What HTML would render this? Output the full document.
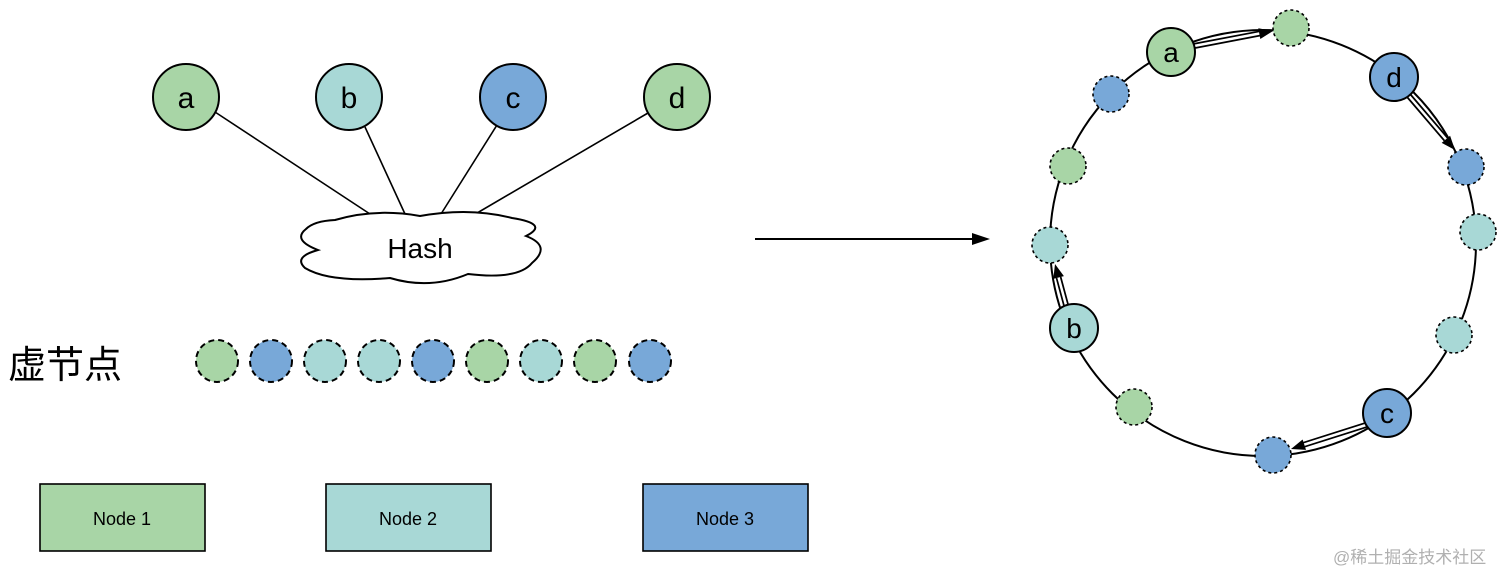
<!DOCTYPE html>
<html><head><meta charset="utf-8"><style>
html,body{margin:0;padding:0;background:#fff;}
svg{display:block;}
text{font-family:"Liberation Sans","Noto Sans CJK SC",sans-serif;}
</style></head><body>
<svg width="1512" height="587" viewBox="0 0 1512 587" xmlns="http://www.w3.org/2000/svg">
<!-- left lines -->
<g stroke="#000" stroke-width="1.6">
<line x1="215" y1="112" x2="370" y2="214"/>
<line x1="365" y1="127" x2="405" y2="214"/>
<line x1="497" y1="125" x2="441" y2="214"/>
<line x1="648" y1="113" x2="472" y2="216"/>
</g>
<g stroke="#000" stroke-width="2">
<circle cx="186" cy="97" r="33" fill="#a8d5a6"/>
<circle cx="349" cy="97" r="33" fill="#a8d8d6"/>
<circle cx="513" cy="97" r="33" fill="#78a8d8"/>
<circle cx="677" cy="97" r="33" fill="#a8d5a6"/>
</g>
<g font-size="30" text-anchor="middle">
<text x="186" y="108">a</text><text x="349" y="108">b</text><text x="513" y="108">c</text><text x="677" y="108">d</text>
</g>
<path d="M335,220 Q375,208 420,216 Q470,207 512,218 Q550,224 526,236 Q552,246 532,263 Q518,280 468,274 Q430,290 390,278 Q330,283 305,268 Q293,257 318,250 Q292,240 306,229 Q314,221 335,220 Z" fill="#fff" stroke="#000" stroke-width="2"/>
<text x="420" y="258" font-size="28" text-anchor="middle">Hash</text>
<text x="8" y="378" font-size="38">虚节点</text>
<g stroke="#000" stroke-width="2" stroke-dasharray="6,4">
<circle cx="217" cy="361" r="21" fill="#a8d5a6"/>
<circle cx="271" cy="361" r="21" fill="#78a8d8"/>
<circle cx="325" cy="361" r="21" fill="#a8d8d6"/>
<circle cx="379" cy="361" r="21" fill="#a8d8d6"/>
<circle cx="433" cy="361" r="21" fill="#78a8d8"/>
<circle cx="487" cy="361" r="21" fill="#a8d5a6"/>
<circle cx="541" cy="361" r="21" fill="#a8d8d6"/>
<circle cx="595" cy="361" r="21" fill="#a8d5a6"/>
<circle cx="650" cy="361" r="21" fill="#78a8d8"/>
</g>
<g stroke="#000" stroke-width="1.6">
<rect x="40" y="484" width="165" height="67" fill="#a8d5a6"/>
<rect x="326" y="484" width="165" height="67" fill="#a8d8d6"/>
<rect x="643" y="484" width="165" height="67" fill="#78a8d8"/>
</g>
<g font-size="18" text-anchor="middle">
<text x="122" y="525">Node 1</text><text x="408" y="525">Node 2</text><text x="725" y="525">Node 3</text>
</g>
<line x1="755" y1="239" x2="974" y2="239" stroke="#000" stroke-width="2"/>
<polygon points="990,239 972,233 972,245" fill="#000"/>
<!-- ring -->
<circle cx="1263" cy="243" r="213" fill="none" stroke="#000" stroke-width="2"/>
<!-- double arrows -->
<g stroke-linecap="butt">
<line x1="1194" y1="46" x2="1260" y2="33.4" stroke="#000" stroke-width="6"/>
<line x1="1194" y1="46" x2="1262" y2="33" stroke="#fff" stroke-width="2.5"/>
<line x1="1409" y1="96" x2="1446" y2="139.3" stroke="#000" stroke-width="6"/>
<line x1="1409" y1="96" x2="1447" y2="140.5" stroke="#fff" stroke-width="2.5"/>
<line x1="1366" y1="425" x2="1304" y2="444.7" stroke="#000" stroke-width="6"/>
<line x1="1366" y1="425" x2="1303" y2="445" stroke="#fff" stroke-width="2.5"/>
<line x1="1066" y1="305" x2="1058.6" y2="277.5" stroke="#000" stroke-width="6"/>
<line x1="1066" y1="305" x2="1058.3" y2="276.5" stroke="#fff" stroke-width="2.5"/>
</g>
<g fill="#000">
<polygon points="1273,31 1260.3,39 1258.3,28.2"/>
<polygon points="1455,150 1441.7,142.9 1450.1,135.7"/>
<polygon points="1291,449 1306,449.9 1302.6,439.5"/>
<polygon points="1055,264 1063.9,276.1 1053.3,278.9"/>
</g>
<g stroke="#000" stroke-width="1.6" stroke-dasharray="3,3">
<circle cx="1291" cy="28" r="18" fill="#a8d5a6"/>
<circle cx="1466" cy="167" r="18" fill="#78a8d8"/>
<circle cx="1478" cy="232" r="18" fill="#a8d8d6"/>
<circle cx="1454" cy="335" r="18" fill="#a8d8d6"/>
<circle cx="1273" cy="455" r="18" fill="#78a8d8"/>
<circle cx="1134" cy="407" r="18" fill="#a8d5a6"/>
<circle cx="1050" cy="245" r="18" fill="#a8d8d6"/>
<circle cx="1068" cy="166" r="18" fill="#a8d5a6"/>
<circle cx="1111" cy="94" r="18" fill="#78a8d8"/>
</g>
<g stroke="#000" stroke-width="2">
<circle cx="1171" cy="52" r="24" fill="#a8d5a6"/>
<circle cx="1394" cy="77" r="24" fill="#78a8d8"/>
<circle cx="1387" cy="413" r="24" fill="#78a8d8"/>
<circle cx="1074" cy="328" r="24" fill="#a8d8d6"/>
</g>
<g font-size="28" text-anchor="middle">
<text x="1171" y="62">a</text><text x="1394" y="87">d</text><text x="1387" y="423">c</text><text x="1074" y="338">b</text>
</g>
<text x="1333" y="563" font-size="17" fill="#b0b0b0">@稀土掘金技术社区</text>
</svg>
</body></html>
